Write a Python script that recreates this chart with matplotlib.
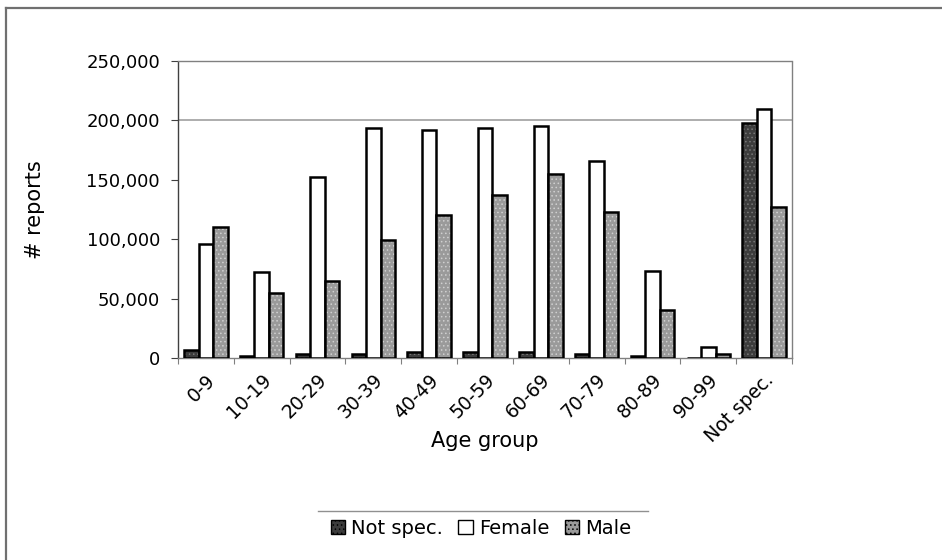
import matplotlib
matplotlib.use("Agg")
import matplotlib.pyplot as plt
import numpy as np
from matplotlib.lines import Line2D
from matplotlib.patches import Patch
from matplotlib.ticker import FuncFormatter, FixedLocator

plt.rcParams['font.family'] = ['DejaVu Sans']
plt.rcParams['hatch.linewidth'] = 0.6

age_groups = ["0-9", "10-19", "20-29", "30-39", "40-49", "50-59",
              "60-69", "70-79", "80-89", "90-99", "Not spec."]
not_spec = [7000, 2000, 3000, 3500, 5000, 5000, 5000, 3500, 2000, 0, 197500]
female = [96000, 72000, 152000, 194000, 192000, 194000, 195000, 166000, 73000, 9500, 210000]
male = [110000, 55000, 65000, 99000, 120000, 137000, 155000, 123000, 40500, 3500, 127500]

series_names = ["Not spec.", "Female", "Male"]
faces = ["#3c3c3c", "white", "#9a9a9a"]
hatches = ["....", None, "...."]
hatch_cols = ["#777777", None, "#d0d0d0"]

W, H = 942, 560
fig = plt.figure(figsize=(W / 100, H / 100), dpi=100)
ax = fig.add_axes([178 / W, 1 - 358 / H, (792 - 178) / W, (358 - 61) / H])

x = np.arange(len(age_groups))
bw = 0.26
for i, (vals, fc, hc, hc_col) in enumerate(zip([not_spec, female, male], faces, hatches, hatch_cols)):
    bars = ax.bar(x + (i - 1) * bw, vals, width=bw, facecolor=fc, edgecolor="black",
                  linewidth=1.8, zorder=3)
    if hc:
        for b in bars:
            b.set_hatch(hc)
            b._hatch_color = matplotlib.colors.to_rgba(hc_col)

ax.set_xlim(-0.5, len(age_groups) - 0.5)
ax.set_ylim(0, 250000)
ax.axhline(200000, color="#a0a0a0", linewidth=1.2, zorder=1)

for side in ["top", "right", "bottom"]:
    ax.spines[side].set_linestyle((0, (1, 1)))
    ax.spines[side].set_color("#808080")
    ax.spines[side].set_linewidth(1.0)
ax.spines["left"].set_linestyle((0, (1, 1)))
ax.spines["left"].set_color("#404040")
ax.spines["left"].set_linewidth(1.0)

ax.yaxis.set_major_locator(FixedLocator([0, 50000, 100000, 150000, 200000, 250000]))
ax.yaxis.set_major_formatter(FuncFormatter(lambda v, p: f"{int(v):,}"))
ax.tick_params(axis="y", direction="out", length=5, width=0.8, color="#404040",
               labelsize=13, pad=8)

ax.set_xticks(np.arange(len(age_groups) + 1) - 0.5, minor=False)
ax.set_xticklabels([])
ax.tick_params(axis="x", which="major", direction="out", length=4, width=0.8, color="#808080")
ax.set_xticks(x, minor=True)
ax.set_xticklabels(age_groups, minor=True, rotation=45, ha="right", va="top",
                   rotation_mode="anchor", fontsize=13.5)
ax.tick_params(axis="x", which="minor", length=0, pad=9)

ax.set_ylabel("# reports", fontsize=15)
ax.yaxis.set_label_coords((35 - 178) / (792 - 178), 0.5)
ax.yaxis.label.set_va("center")
ax.set_xlabel("Age group", fontsize=15)
ax.xaxis.set_label_coords(0.5, (358 - 441) / (358 - 61))
ax.xaxis.label.set_va("center")

handles = [Patch(facecolor=fc, edgecolor="black", linewidth=1.0, hatch=hc)
           for fc, hc in zip(faces, hatches)]
leg = fig.legend(handles, series_names, loc="center", bbox_to_anchor=(481 / W, 1 - 528 / H),
                 ncol=3, frameon=False, fontsize=14, handlelength=0.75, handleheight=0.75,
                 handletextpad=0.3, columnspacing=0.8, borderpad=0)

fig.add_artist(Line2D([318 / W, 648 / W], [1 - 511 / H, 1 - 511 / H],
                      transform=fig.transFigure, color="#909090", linewidth=1.0))
fig.add_artist(Line2D([6 / W, 6 / W], [0, 1 - 8 / H], transform=fig.transFigure,
                      color="#707070", linewidth=1.6))
fig.add_artist(Line2D([6 / W, 1], [1 - 8 / H, 1 - 8 / H], transform=fig.transFigure,
                      color="#707070", linewidth=1.6))

fig.savefig("out.png", dpi=100, facecolor="white")
